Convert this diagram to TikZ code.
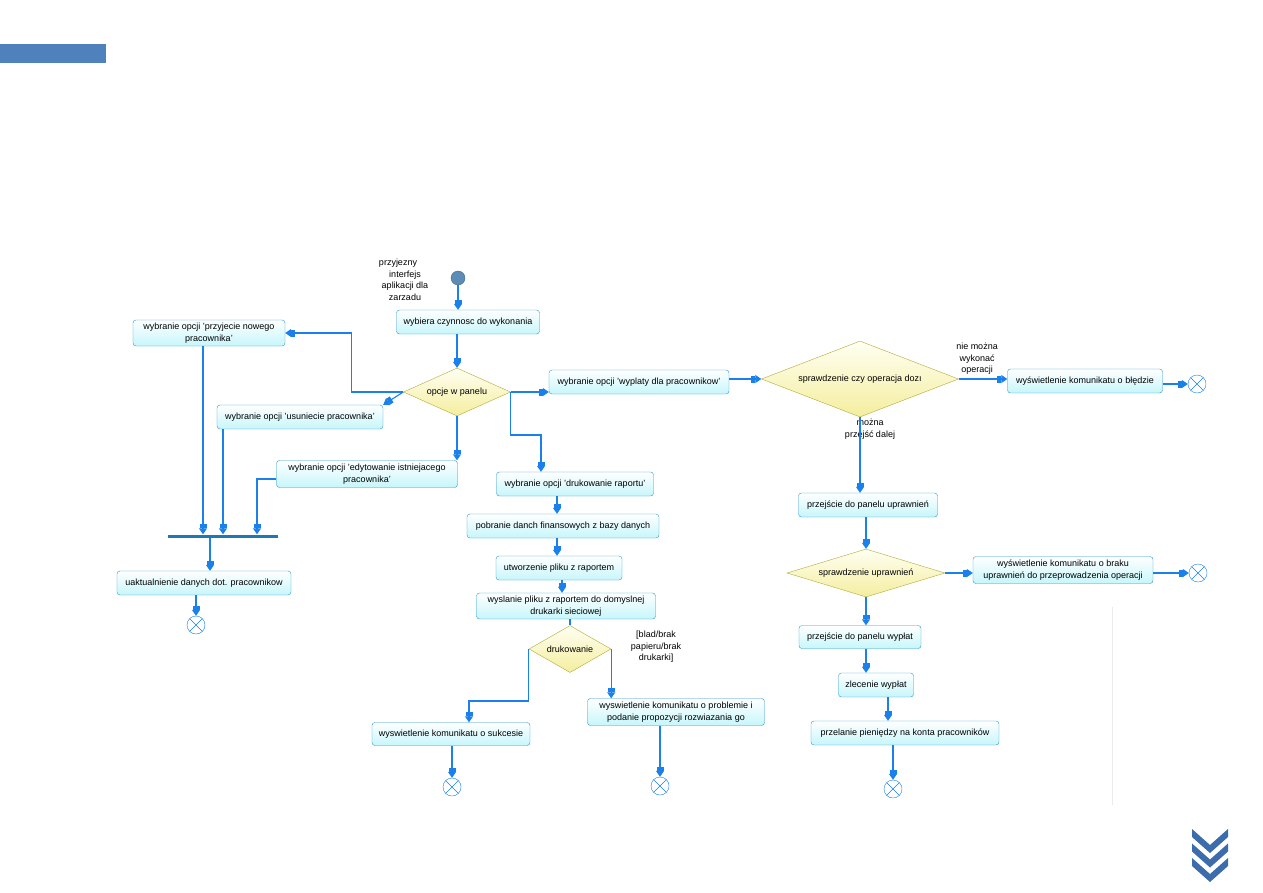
\documentclass[tikz,border=0pt]{standalone}
\usepackage{fontspec}
\setmainfont{Liberation Sans}
\usetikzlibrary{arrows.meta,calc,shapes.geometric}
\definecolor{actblue}{HTML}{2A96D2}
\definecolor{actcyan}{HTML}{C6F6FB}
\definecolor{flowblue}{HTML}{1A80EC}
\definecolor{decolive}{HTML}{B2AA3A}
\definecolor{decyellow}{HTML}{F4EE9E}
\definecolor{initblue}{HTML}{5C8CB6}
\definecolor{barblue}{HTML}{1F78B6}
\definecolor{bannerblue}{HTML}{4F81BD}
\definecolor{chevblue}{HTML}{3C6CAC}

\begin{document}
\begin{tikzpicture}[x=1pt,y=-1pt,font=\fontsize{9}{11.5}\selectfont,
    act/.style={draw=actblue,rounded corners=3pt,top color=white,
      bottom color=actcyan,align=center,inner sep=1pt,minimum height=24pt},
    dec/.style={diamond,draw=decolive,top color=yellow!5,
      bottom color=decyellow,inner sep=0pt},
    flow/.style={draw=flowblue,line width=1.1pt,
      -{Rectangle[length=4pt,width=7pt]Triangle[length=6pt,width=8pt]}},
    endnode/.style={circle,draw=flowblue,fill=white,minimum size=18pt,
      inner sep=0pt,path picture={
        \draw[flowblue] (path picture bounding box.north west)
          -- (path picture bounding box.south east)
          (path picture bounding box.north east)
          -- (path picture bounding box.south west);}},
    lbl/.style={align=center,inner sep=0pt}]
    \useasboundingbox (0,0) rectangle (1263,893);
    % page decoration
    \fill[bannerblue] (0,44) rectangle (106,63);
    \foreach \k in {0,14.5,29}
      \fill[chevblue] (1192,829+\k) -- (1210,845+\k) -- (1228,829+\k)
        -- (1228,837+\k) -- (1210,853+\k) -- (1192,837+\k) -- cycle;
    \draw[black!8] (1112,607) -- (1112,805);
    % start
    \node[circle,draw=initblue!75!black,fill=initblue,minimum size=14pt,
      inner sep=0pt] (start) at (458,278) {};
    \node[lbl] (intf) at (405,280)
      {przyjezny\hspace*{14pt}\\interfejs\\aplikacji dla\\zarzadu};
    \node[act,minimum width=143pt] (wyb) at (468,322)
      {wybiera czynnosc do wykonania};
    \node[dec,aspect=2.23,minimum width=107pt,minimum height=48pt] (panel)
      at (457,392) {opcje w panelu};
    % left branch
    \node[act,minimum width=152pt,minimum height=26pt] (przyj) at (209,333)
      {wybranie opcji 'przyjecie nowego\\pracownika'};
    \node[act,minimum width=166pt] (usun) at (300,417)
      {wybranie opcji 'usuniecie pracownika'};
    \node[act,minimum width=181pt,minimum height=27pt] (edyt) at (367,474)
      {wybranie opcji 'edytowanie istniejacego\\pracownika'};
    \node[fill=barblue,minimum width=110pt,minimum height=3pt,
      inner sep=0pt] (bar) at (223,536) {};
    \node[act,minimum width=174pt] (uakt) at (204,583)
      {uaktualnienie danych dot. pracownikow};
    \node[endnode] (end1) at (196,625) {};
    % printing branch
    \node[act,minimum width=157pt] (druk) at (575,484)
      {wybranie opcji 'drukowanie raportu'};
    \node[act,minimum width=192pt] (pobr) at (563,526)
      {pobranie danch finansowych z bazy danych};
    \node[act,minimum width=126pt] (utw) at (559,568)
      {utworzenie pliku z raportem};
    \node[act,minimum width=179pt,minimum height=26pt] (wysl) at (566,606)
      {wyslanie pliku z raportem do domyslnej\\drukarki sieciowej};
    \node[dec,aspect=1.74,minimum width=82pt,minimum height=47pt] (drukdec)
      at (570,649) {drukowanie};
    \node[act,minimum width=158pt,minimum height=23pt] (sukc) at (451,734)
      {wyswietlenie komunikatu o sukcesie};
    \node[act,minimum width=177pt,minimum height=27pt] (probl) at (676,712)
      {wyswietlenie komunikatu o problemie i\\podanie propozycji rozwiazania go};
    \node[lbl] (bladlbl) at (656,647) {[blad/brak\\papieru/brak\\drukarki]};
    \node[endnode] (end2) at (452,787) {};
    \node[endnode] (end3) at (660,786) {};
    % payment branch
    \node[act,minimum width=180pt] (wypl) at (639,382)
      {wybranie opcji 'wyplaty dla pracownikow'};
    \node[dec,aspect=2.6,minimum width=197pt,minimum height=76pt] (czyop)
      at (860,379) {sprawdzenie czy operacja dozı};
    \node[act,minimum width=155pt] (blad) at (1085,381)
      {wyświetlenie komunikatu o błędzie};
    \node[lbl] (nielbl) at (977,359) {nie można\\wykonać\\operacji};
    \node[lbl] (mozlbl) at (870,429) {można\\przejść dalej};
    \node[endnode] (end4) at (1197,384) {};
    \node[act,minimum width=139pt] (upr) at (868,505)
      {przejście do panelu uprawnień};
    \node[dec,aspect=3.3,minimum width=158pt,minimum height=48pt] (sprupr)
      at (866,573) {sprawdzenie uprawnień};
    \node[act,minimum width=180pt,minimum height=27pt] (brak) at (1063,570)
      {wyświetlenie komunikatu o braku\\uprawnień do przeprowadzenia operacji};
    \node[endnode] (end5) at (1198,573) {};
    \node[act,minimum width=122pt,minimum height=23pt] (pwypl) at (860,637)
      {przejście do panelu wypłat};
    \node[act,minimum width=75pt] (zlec) at (876,685) {zlecenie wypłat};
    \node[act,minimum width=188pt] (przel) at (905,733)
      {przelanie pieniędzy na konta pracowników};
    \node[endnode] (end6) at (893,789) {};
    % flows
    \draw[flow] (start.south) -- (start.south |- wyb.north);
    \draw[flow] (wyb.south -| panel.north) -- (panel.north);
    \draw[flow] (panel.west) -- ++(-52,0) |- (przyj.east);
    \draw[flow] (panel.west) -- (usun.north east);
    \draw[flow] (panel.south) -- (panel.south |- edyt.north);
    \draw[flow] (panel.east) -- (panel.east -| wypl.west);
    \draw[flow] (panel.east) -- ++(0,43) -| ([xshift=-34pt]druk.north);
    \draw[flow] ([xshift=-6pt]przyj.south) -- ([xshift=-6pt]przyj.south |- bar.north);
    \draw[flow] ([xshift=-77pt]usun.south) -- ([xshift=-77pt]usun.south |- bar.north);
    \draw[flow] ([yshift=-5pt]edyt.west) -| ([xshift=34pt]bar.north);
    \draw[flow] ([xshift=-13pt]bar.south) -- ([xshift=-13pt]bar.south |- uakt.north);
    \draw[flow] (end1 |- uakt.south) -- (end1);
    \draw[flow] ([xshift=-18pt]druk.south) -- ([xshift=-18pt]druk.south |- pobr.north);
    \draw[flow] ([xshift=-6pt]pobr.south) -- ([xshift=-6pt]pobr.south |- utw.north);
    \draw[flow] ([xshift=3pt]utw.south) -- ([xshift=3pt]utw.south |- wysl.north);
    \draw[draw=flowblue,line width=1.1pt] (drukdec.north |- wysl.south) -- (drukdec.north);
    \draw[flow] (drukdec.west) -- ++(0,52) -| ([xshift=18pt]sukc.north);
    \draw[flow] (drukdec.east) -- (drukdec.east |- probl.north);
    \draw[flow] (end2 |- sukc.south) -- (end2);
    \draw[flow] (end3 |- probl.south) -- (end3);
    \draw[flow] (wypl.east |- czyop.west) -- (czyop.west);
    \draw[flow] (czyop.east) -- (czyop.east -| blad.west);
    \draw[flow] (blad.east |- end4) -- (end4);
    \draw[flow] (czyop.south) -- (czyop.south |- upr.north);
    \draw[flow] (upr.south -| sprupr.north) -- (sprupr.north);
    \draw[flow] (sprupr.east) -- (sprupr.east -| brak.west);
    \draw[flow] (brak.east |- end5) -- (end5);
    \draw[flow] (sprupr.south) -- (sprupr.south |- pwypl.north);
    \draw[flow] ([xshift=6pt]pwypl.south) -- ([xshift=6pt]pwypl.south |- zlec.north);
    \draw[flow] ([xshift=12pt]zlec.south) -- ([xshift=12pt]zlec.south |- przel.north);
    \draw[flow] (end6 |- przel.south) -- (end6);
  \end{tikzpicture}
\end{document}
